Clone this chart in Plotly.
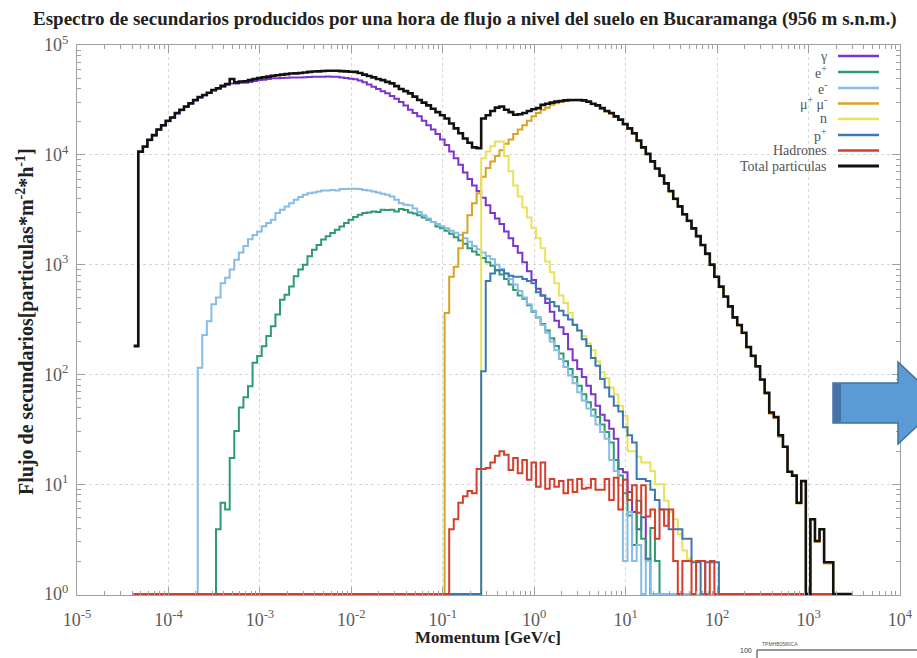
import numpy as np
import plotly.graph_objects as go

# ---------------------------------------------------------------------------
# Momentum binning: logarithmic bins, 0.05 decade wide, starting at 10^-4.38 GeV/c
# ---------------------------------------------------------------------------
LOG_P_MIN = -4.38
LOG_BIN_WIDTH = 0.05
N_BINS = 157

x_tick_exponents = [-5, -4, -3, -2, -1, 0, 1, 2, 3, 4]
y_tick_exponents = [0, 1, 2, 3, 4, 5]

series_labels = ["γ", "e<sup>+</sup>", "e<sup>-</sup>", "μ<sup>+</sup> μ<sup>-</sup>",
                 "n", "p<sup>+</sup>", "Hadrones", "Total particulas"]

# Flux per bin [particulas m^-2 h^-1]; each series starts at its own first bin index
gamma_first_bin = 0
gamma_flux = [
    180, 1.06e4, 1.18e4, 1.36e4, 1.50e4, 1.69e4, 1.85e4, 2.02e4, 2.17e4, 2.38e4,
    2.55e4, 2.72e4, 2.92e4, 3.13e4, 3.34e4, 3.49e4, 3.65e4, 3.85e4, 3.99e4, 4.17e4,
    4.34e4, 4.45e4, 4.46e4, 4.52e4, 4.53e4, 4.61e4, 4.70e4, 4.80e4, 4.83e4, 4.89e4,
    4.97e4, 4.98e4, 5.01e4, 5.04e4, 5.07e4, 5.05e4, 5.06e4, 5.09e4, 5.12e4, 5.14e4,
    5.14e4, 5.15e4, 5.17e4, 5.15e4, 5.14e4, 5.07e4, 5.00e4, 4.93e4, 4.87e4, 4.75e4,
    4.57e4, 4.37e4, 4.17e4, 3.98e4, 3.80e4, 3.63e4, 3.43e4, 3.24e4, 3.02e4, 2.82e4,
    2.57e4, 2.40e4, 2.24e4, 2.04e4, 1.86e4, 1.70e4, 1.55e4, 1.38e4, 1.23e4, 1.07e4,
    9330, 8130, 6920, 6030, 5250, 4680, 4070, 3470, 2950, 2630,
    2340, 2000, 1740, 1480, 1280, 1050, 871, 724, 603, 525,
    447, 372, 309, 269, 234, 170, 135, 112, 95, 79,
    66, 52, 43, 38, 32, 26, 13.8, 12.9, 8.5, 5.6,
    3.9, 5.0, 2.1,
]

positron_first_bin = 18
positron_flux = [
    3.9, 6.8, 5.9, 17.4, 30.5, 50, 62, 78, 128, 147,
    181, 224, 275, 351, 479, 533, 631, 783, 902, 1000,
    1190, 1370, 1510, 1690, 1810, 1940, 2080, 2230, 2400, 2570,
    2710, 2850, 2950, 2990, 3050, 3020, 3160, 3140, 3160, 3050,
    3210, 3140, 2990, 2930, 2820, 2690, 2570, 2450, 2230, 2140,
    2040, 1910, 1780, 1660, 1550, 1410, 1320, 1230, 1150, 1050,
    975, 891, 813, 741, 661, 589, 525, 490, 427, 372,
    331, 288, 251, 214, 182, 155, 132, 112, 95, 79,
    66, 56, 48, 41, 35, 30, 24, 16.6, 12, 8.3,
    5.2, 2.8, 7.1, 3.2, 2.0, 4.0, 2.0,
]

electron_first_bin = 14
electron_flux = [
    115, 229, 305, 437, 501, 676, 759, 902, 1110, 1290,
    1480, 1700, 1860, 2000, 2240, 2400, 2570, 2950, 3160, 3390,
    3630, 3890, 4120, 4330, 4470, 4540, 4630, 4730, 4730, 4790,
    4730, 4880, 4880, 4900, 4900, 4880, 4790, 4730, 4630, 4540,
    4420, 4330, 4170, 3890, 3630, 3510, 3470, 3240, 3020, 2820,
    2630, 2450, 2340, 2240, 2140, 2040, 1950, 1860, 1740, 1620,
    1480, 1380, 1290, 1200, 1120, 1000, 912, 832, 741, 661,
    575, 501, 437, 380, 331, 282, 240, 200, 166, 138,
    117, 98, 83, 69, 58, 49, 42, 35, 30, 26,
    16.6, 13.2, 9.8, 2.0, 5.6, 2.0, 2.8, 0, 2.0,
]

muon_first_bin = 68
muon_flux = [
    363, 776, 955, 1410, 1950, 2820, 3630, 4470, 6310, 7590,
    8710, 9770, 1.10e4, 1.26e4, 1.38e4, 1.55e4, 1.70e4, 1.86e4, 2.04e4, 2.24e4,
    2.40e4, 2.57e4, 2.69e4, 2.85e4, 2.95e4, 3.02e4, 3.09e4, 3.13e4, 3.14e4, 3.14e4,
    3.09e4, 3.02e4, 2.88e4, 2.79e4, 2.63e4, 2.48e4, 2.37e4, 2.21e4, 2.07e4, 1.88e4,
    1.72e4, 1.55e4, 1.33e4, 1.16e4, 1.01e4, 8610, 7410, 6380, 5430, 4620,
    3940, 3350, 2850, 2480, 2110, 1800, 1500, 1240, 989, 767,
    624, 507, 412, 327, 279, 237, 176, 146, 117, 89,
    67, 44, 40, 27, 22, 13, 12, 6.7, 10.6, 0,
    4.8, 3.0, 3.9, 1.9, 1.9,
]

neutron_first_bin = 76
neutron_flux = [
    9330, 1.07e4, 1.20e4, 1.32e4, 1.32e4, 9770, 7080, 5250, 4170, 3310,
    2690, 2140, 1740, 1410, 1070, 851, 676, 525, 447, 363,
    288, 251, 224, 191, 166, 132, 105, 93, 76, 66,
    52, 42, 20, 20, 17.8, 15.8, 15.8, 13.2, 10, 10,
    7.1, 5.6, 4.8, 3.5, 2.5, 2.1, 2.0,
]

proton_first_bin = 76
proton_flux = [
    107, 708, 832, 891, 891, 832, 794, 776, 776, 741,
    708, 676, 562, 525, 490, 457, 417, 380, 347, 316,
    282, 251, 209, 182, 141, 120, 91, 76, 63, 52,
    46, 33, 28, 24, 11.2, 11.2, 10.7, 8.9, 7.2, 5.9,
    5.9, 3.9, 3.9, 3.9, 3.2, 3.2, 1.95, 1.95, 0, 1.95,
    1.95, 1.95,
]

hadron_first_bin = 69
hadron_flux = [
    3.9, 4.8, 6.8, 7.8, 8.7, 8.3, 13.8, 13.8, 14.1, 15.8,
    18.2, 20.0, 18.6, 13.5, 17.4, 12.6, 16.6, 11.0, 15.8, 9.5,
    15.8, 9.1, 11.2, 9.5, 10.7, 8.3, 11.0, 8.5, 11.2, 9.1,
    9.3, 11.2, 8.9, 8.9, 11.2, 7.2, 11.5, 5.9, 11.0, 7.2,
    9.8, 5.5, 9.8, 5.1, 5.9, 3.2, 5.9, 4.2, 5.9, 2.0,
    0, 2.0, 2.0, 0, 2.0, 2.0, 0, 2.0, 0,
]

total_first_bin = 0
total_flux = [
    182, 1.07e4, 1.19e4, 1.37e4, 1.51e4, 1.70e4, 1.86e4, 2.04e4, 2.19e4, 2.40e4,
    2.57e4, 2.75e4, 2.95e4, 3.16e4, 3.35e4, 3.51e4, 3.68e4, 3.89e4, 4.04e4, 4.24e4,
    4.42e4, 4.90e4, 4.57e4, 4.65e4, 4.68e4, 4.79e4, 4.90e4, 5.01e4, 5.07e4, 5.15e4,
    5.25e4, 5.31e4, 5.37e4, 5.43e4, 5.50e4, 5.52e4, 5.56e4, 5.62e4, 5.69e4, 5.73e4,
    5.75e4, 5.79e4, 5.82e4, 5.82e4, 5.82e4, 5.78e4, 5.75e4, 5.71e4, 5.69e4, 5.56e4,
    5.37e4, 5.22e4, 5.07e4, 4.90e4, 4.79e4, 4.62e4, 4.47e4, 4.22e4, 3.98e4, 3.80e4,
    3.63e4, 3.39e4, 3.16e4, 2.99e4, 2.82e4, 2.63e4, 2.45e4, 2.29e4, 2.14e4, 1.93e4,
    1.74e4, 1.57e4, 1.41e4, 1.29e4, 1.17e4, 1.15e4, 2.14e4, 2.29e4, 2.51e4, 2.69e4,
    2.75e4, 2.57e4, 2.45e4, 2.32e4, 2.34e4, 2.40e4, 2.51e4, 2.60e4, 2.66e4, 2.85e4,
    2.92e4, 2.99e4, 3.05e4, 3.09e4, 3.13e4, 3.16e4, 3.16e4, 3.16e4, 3.13e4, 3.05e4,
    2.92e4, 2.82e4, 2.66e4, 2.51e4, 2.40e4, 2.24e4, 2.09e4, 1.91e4, 1.74e4, 1.57e4,
    1.35e4, 1.17e4, 1.02e4, 8710, 7500, 6460, 5500, 4680, 3980, 3390,
    2880, 2510, 2140, 1820, 1510, 1260, 1000, 776, 631, 513,
    417, 331, 282, 240, 178, 148, 119, 90, 68, 45,
    41, 28, 22, 13, 12, 6.8, 10.7, 0, 4.8, 3.05,
    3.9, 1.95, 1.95, 0, 0, 0, 0,
]

series_data = [
    (gamma_first_bin, gamma_flux),
    (positron_first_bin, positron_flux),
    (electron_first_bin, electron_flux),
    (muon_first_bin, muon_flux),
    (neutron_first_bin, neutron_flux),
    (proton_first_bin, proton_flux),
    (hadron_first_bin, hadron_flux),
    (total_first_bin, total_flux),
]

series_colors = ["#7b35cc", "#2f9a6e", "#86bde8", "#d9a323",
                 "#e9e25a", "#3c78b2", "#d23f2c", "#111111"]
series_widths = [2, 2, 2, 2, 2, 2, 2, 2.6]

# ---------------------------------------------------------------------------
bin_edges = 10.0 ** (LOG_P_MIN + LOG_BIN_WIDTH * np.arange(N_BINS + 1))


def histogram_row(first_bin, counts):
    """Place a series into the common bin grid; empty bins rest on the 10^0 floor."""
    h = np.zeros(N_BINS)
    h[first_bin:first_bin + len(counts)] = counts
    h = np.maximum(h, 1.0)
    return np.append(h, h[-1])


fig = go.Figure()
for (first, counts), name, color, width in zip(series_data, series_labels,
                                                series_colors, series_widths):
    fig.add_trace(go.Scatter(
        x=bin_edges, y=histogram_row(first, counts), mode="lines",
        line=dict(color=color, width=width, shape="hv"),
        name=name, showlegend=False, hoverinfo="skip",
    ))

W, H = 917, 658
ML, MR, MT, MB = 77, 17, 45, 63
plot_w = W - ML - MR
plot_h = H - MT - MB


def px_x(px):
    return (px - ML) / plot_w


def px_y(py):
    return (H - MB - py) / plot_h


serif = "Liberation Serif, Times New Roman, serif"
frame_color = "#a0a0a0"
grid_color = "#d6d6d6"

axis_common = dict(
    type="log", ticks="inside", ticklen=8, tickcolor=frame_color,
    showline=True, linecolor=frame_color, linewidth=1, mirror="ticks",
    showgrid=True, gridcolor=grid_color, griddash="dot", gridwidth=1,
    zeroline=False, automargin=False,
    tickfont=dict(family=serif, size=18, color="#5a5a5a"),
    minor=dict(ticks="inside", ticklen=4, tickcolor=frame_color, dtick="D1",
               showgrid=False),
)

fig.update_xaxes(
    range=[-5, 4], tickmode="array",
    tickvals=[10.0 ** p for p in x_tick_exponents],
    ticktext=[f"10<sup>{p}</sup>" for p in x_tick_exponents],
    ticklabelstandoff=8,
    **axis_common,
)
fig.update_yaxes(
    range=[-0.008, 5], tickmode="array",
    tickvals=[10.0 ** p for p in y_tick_exponents],
    ticktext=[f"10<sup>{p}</sup>" for p in y_tick_exponents],
    ticklabelstandoff=4,
    **axis_common,
)

annotations = [
    dict(text="<b>Espectro de secundarios producidos por una hora de flujo a nivel del suelo en Bucaramanga (956 m s.n.m.)</b>",
         x=px_x(31), y=px_y(19), xanchor="left", yanchor="middle",
         font=dict(family=serif, size=19, color="#222222")),
    dict(text="<b>Momentum [GeV/c]</b>", x=px_x(488), y=px_y(637),
         xanchor="center", yanchor="middle",
         font=dict(family=serif, size=17, color="#222222")),
    dict(text="<b>Flujo de secundarios[particulas*m<sup>-2</sup>*h<sup>-1</sup>]</b>",
         x=px_x(25), y=px_y(322), xanchor="center", yanchor="middle", textangle=-90,
         font=dict(family=serif, size=20, color="#222222")),
]

shapes = []
legend_rows = [56, 72, 88, 103.5, 119, 135, 150.5, 166]
for label, color, width, ry in zip(series_labels, series_colors, series_widths, legend_rows):
    annotations.append(dict(
        text=label, x=px_x(829), y=px_y(ry), xanchor="right", yanchor="middle",
        font=dict(family=serif, size=14, color="#555555"),
    ))
    shapes.append(dict(
        type="line", xref="paper", yref="paper",
        x0=px_x(838), x1=px_x(879), y0=px_y(ry), y1=px_y(ry),
        line=dict(color=color, width=width + 0.5),
    ))


def paper_path(points):
    return "M " + " L ".join(f"{px_x(a):.5f},{px_y(b):.5f}" for a, b in points) + " Z"


# Block arrow pointing to the right of the chart
shapes.append(dict(
    type="path", xref="paper", yref="paper",
    path=paper_path([(833, 383), (898, 383), (898, 362), (942, 403),
                     (898, 444), (898, 423), (833, 423)]),
    fillcolor="#5b9bd5", line=dict(color="#41719c", width=1.5),
))
shapes.append(dict(
    type="rect", xref="paper", yref="paper",
    x0=px_x(834), x1=px_x(841), y0=px_y(384), y1=px_y(422),
    fillcolor="#4272a8", line=dict(width=0),
))

# Edge of a small neighbouring figure at the bottom right
shapes.append(dict(
    type="line", xref="paper", yref="paper",
    x0=px_x(757), x1=px_x(917), y0=px_y(650), y1=px_y(650),
    line=dict(color="#333333", width=1),
))
shapes.append(dict(
    type="line", xref="paper", yref="paper",
    x0=px_x(757), x1=px_x(757), y0=px_y(650), y1=px_y(660),
    line=dict(color="#333333", width=1),
))
annotations.append(dict(text="100", x=px_x(754), y=px_y(650), xanchor="right",
                        yanchor="middle", font=dict(family="Liberation Sans", size=7,
                                                    color="#333333")))
annotations.append(dict(text="TPMHB0580CA", x=px_x(760), y=px_y(644), xanchor="left",
                        yanchor="middle", font=dict(family="Liberation Sans", size=5,
                                                    color="#555555")))

for a in annotations:
    a.setdefault("xref", "paper")
    a.setdefault("yref", "paper")
    a.setdefault("showarrow", False)

fig.update_layout(
    width=W, height=H,
    margin=dict(l=ML, r=MR, t=MT, b=MB, pad=0),
    paper_bgcolor="white", plot_bgcolor="white",
    showlegend=False,
    annotations=annotations,
    shapes=shapes,
)

fig.write_html("out.html")
